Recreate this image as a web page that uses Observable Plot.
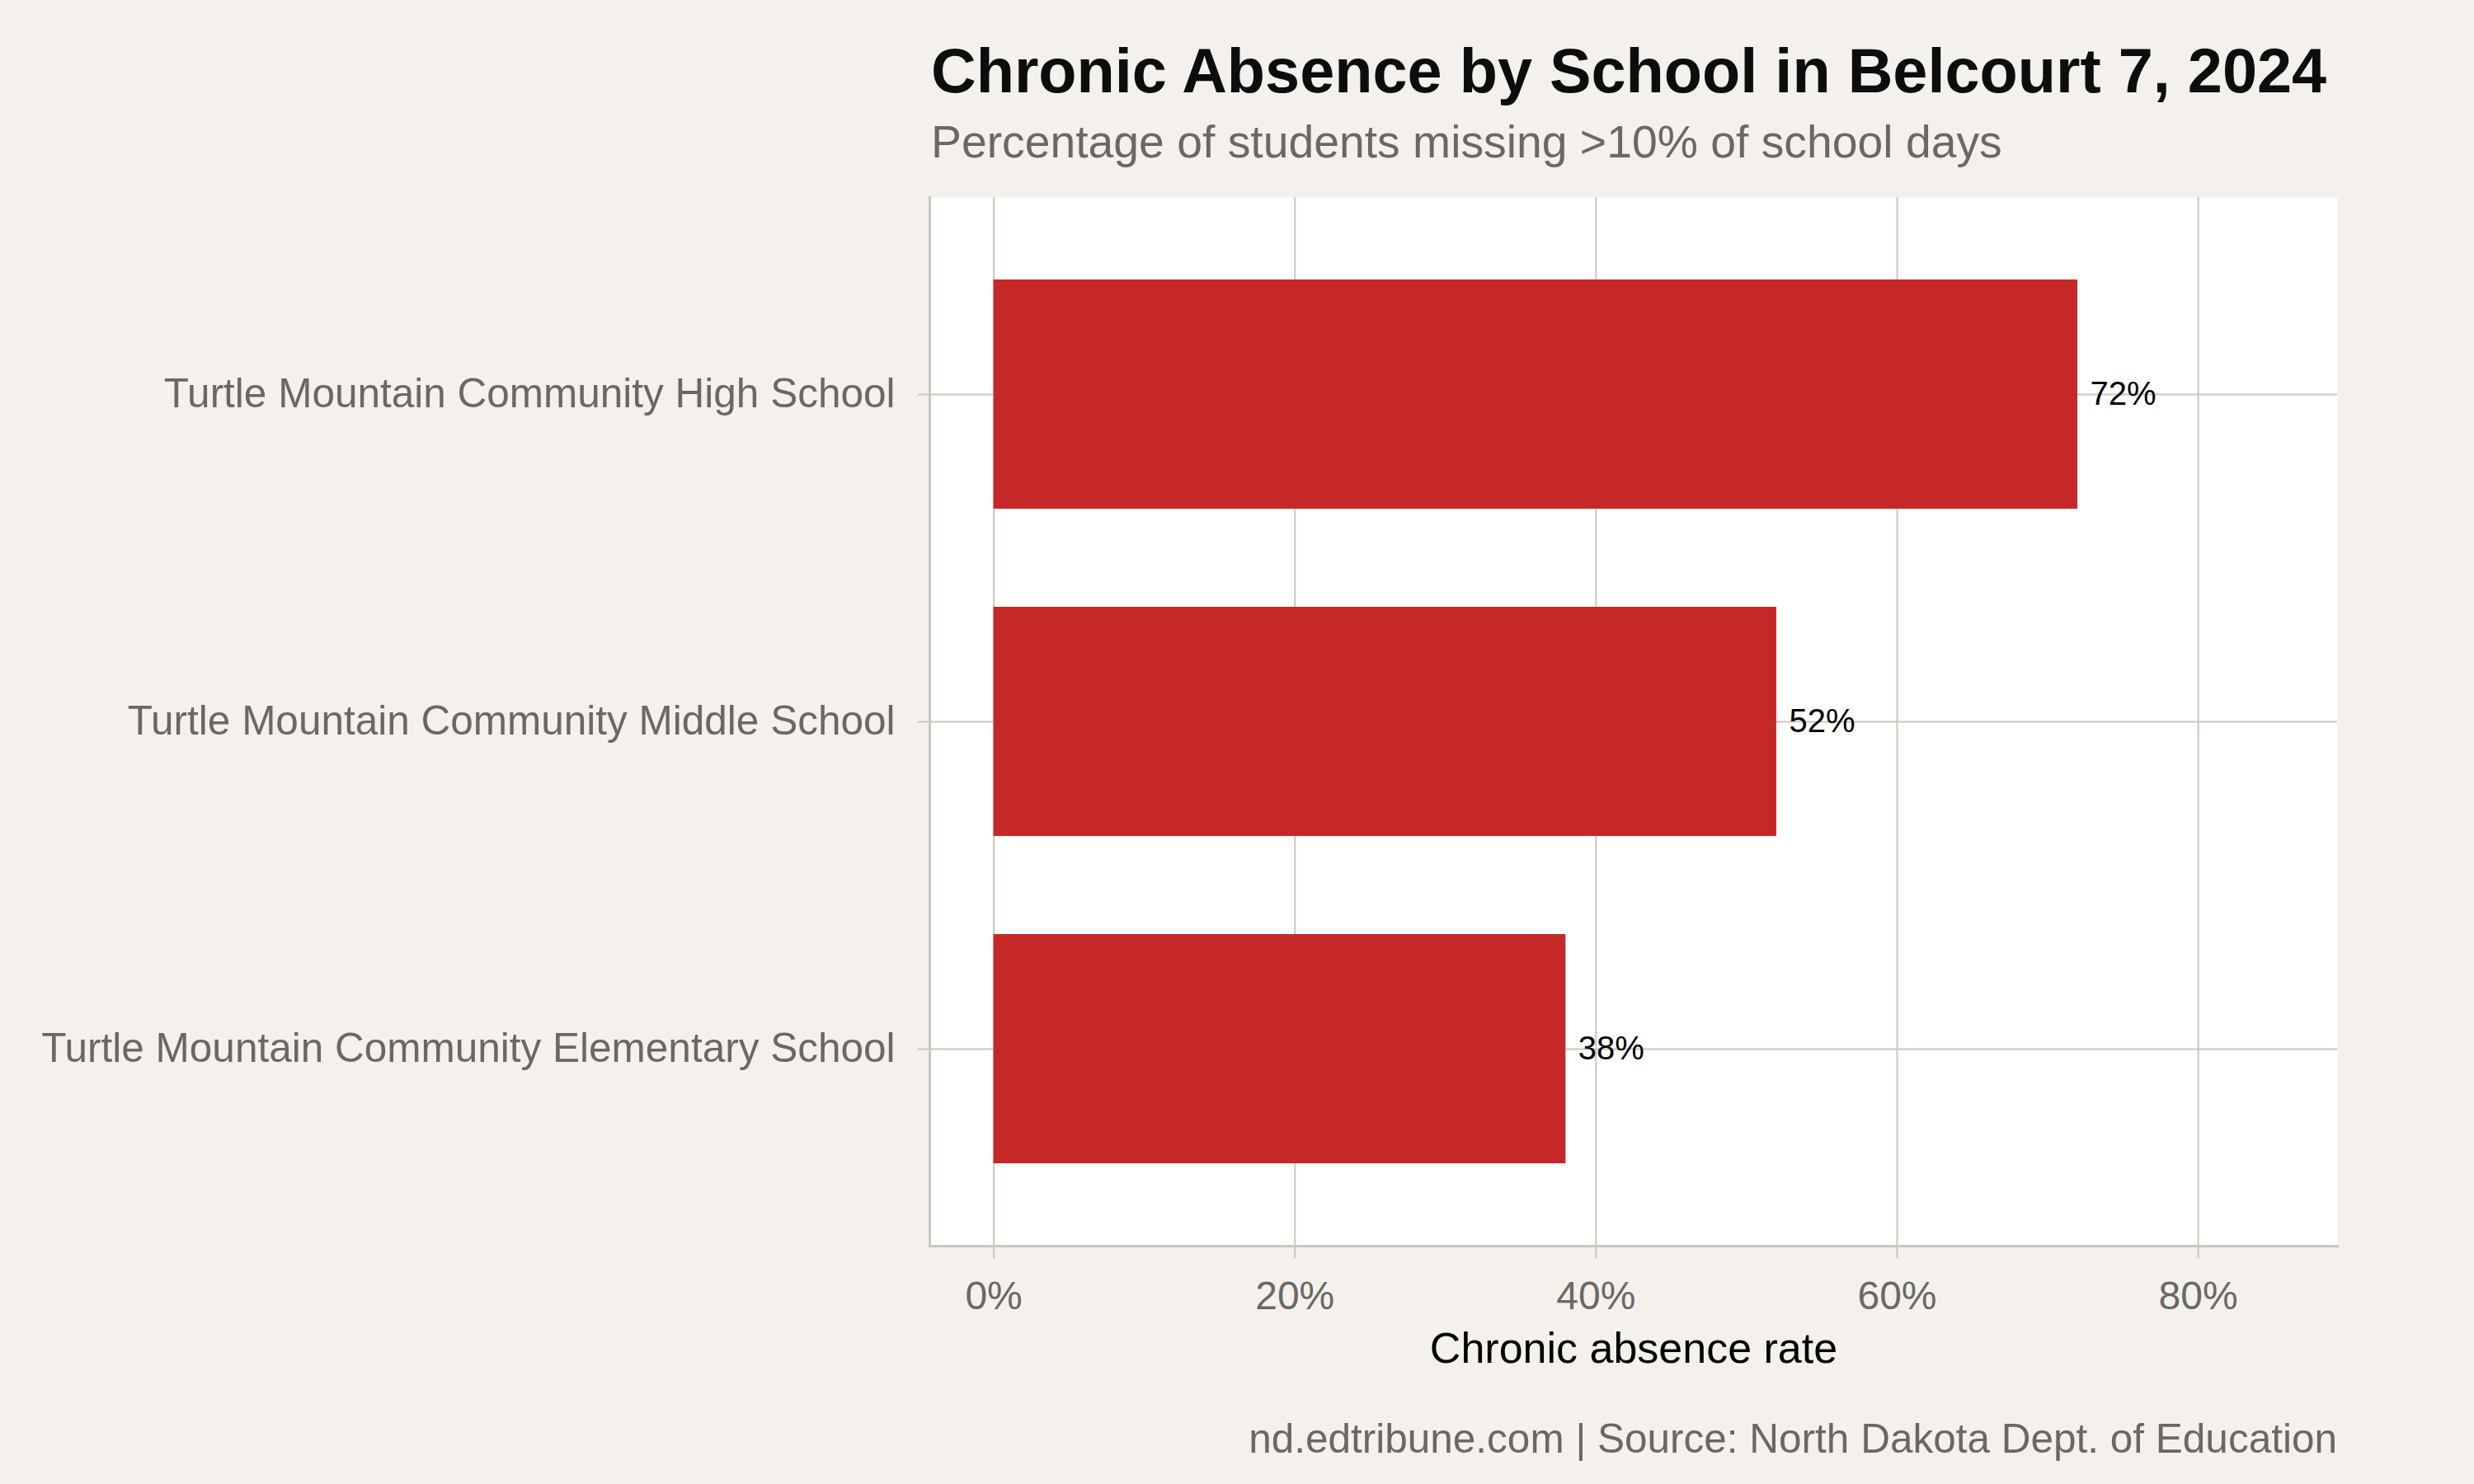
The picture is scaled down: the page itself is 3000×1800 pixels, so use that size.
<!DOCTYPE html>
<html>
<head>
<meta charset="utf-8">
<script src="https://cdn.jsdelivr.net/npm/d3@7"></script>
<script src="https://cdn.jsdelivr.net/npm/@observablehq/plot@0.6"></script>
<style>
  html, body { margin: 0; padding: 0; background: #f4f1ec; }
  #page { position: relative; width: 3000px; height: 1800px; background: #f4f1ec; font-family: "Liberation Sans", Arial, Helvetica, sans-serif; overflow: hidden; }
  .title { position: absolute; left: 1129px; top: 48px; font-size: 75.7px; line-height: 1; font-weight: bold; color: #0d0d0d; white-space: nowrap; margin: 0; }
  .subtitle { position: absolute; left: 1129px; top: 145px; font-size: 55.3px; line-height: 1; color: #6b6863; white-space: nowrap; }
  .caption { position: absolute; right: 166px; top: 1720px; font-size: 49.5px; line-height: 1; color: #6b6863; white-space: nowrap; }
  #chart { position: absolute; left: 0; top: 200px; }
</style>
</head>
<body>
<div id="page">
  <h1 class="title">Chronic Absence by School in Belcourt 7, 2024</h1>
  <div class="subtitle">Percentage of students missing &gt;10% of school days</div>
  <div id="chart"></div>
  <div class="caption">nd.edtribune.com | Source: North Dakota Dept. of Education</div>
</div>
<script>
// Schools, top to bottom, and their chronic absence rates (%)
const schools = [
  "Turtle Mountain Community High School",
  "Turtle Mountain Community Middle School",
  "Turtle Mountain Community Elementary School"
];
const rates = [72, 52, 38];
const xTicks = [0, 20, 40, 60, 80];
const xLabel = "Chronic absence rate";

const rows = schools.map((school, i) => ({school, rate: rates[i]}));

const gridColor = "#ccc6bc";
const textColor = "#6b6863";
const barColor = "#c62828";

const chart = Plot.plot({
  width: 3000,
  height: 1480,
  marginTop: 39,
  marginBottom: 169,
  marginLeft: 1127,
  marginRight: 166,
  style: {background: "transparent", fontFamily: "'Liberation Sans', Arial, Helvetica, sans-serif"},
  x: {domain: [-4.25, 89.25], label: null},
  y: {domain: schools, paddingInner: 0.3, paddingOuter: 0.25, label: null},
  marks: [
    Plot.frame({fill: "white", stroke: "none"}),
    Plot.gridX({ticks: xTicks, stroke: gridColor, strokeOpacity: 1, strokeWidth: 2}),
    Plot.gridY({stroke: gridColor, strokeOpacity: 1, strokeWidth: 2}),
    Plot.barX(rows, {x: "rate", y: "school", fill: barColor}),
    Plot.text(rows, {x: "rate", y: "school", text: d => `${d.rate}%`, dx: 15, textAnchor: "start", fontSize: 40, fill: "black"}),
    Plot.frame({anchor: "left", stroke: gridColor, strokeWidth: 3}),
    Plot.frame({anchor: "bottom", stroke: gridColor, strokeWidth: 3}),
    Plot.axisX({ticks: xTicks, tickFormat: d => `${d}%`, tickSize: 15, tickPadding: 27, fontSize: 48, stroke: gridColor, strokeWidth: 2, fill: textColor, label: null}),
    Plot.axisY({tickSize: 14, tickPadding: 28, fontSize: 49.5, stroke: gridColor, strokeWidth: 2, fill: textColor, label: null}),
    Plot.text([xLabel], {frameAnchor: "bottom", dy: 141, fontSize: 52, fill: "black"})
  ]
});
document.getElementById("chart").appendChild(chart);
</script>
</body>
</html>
